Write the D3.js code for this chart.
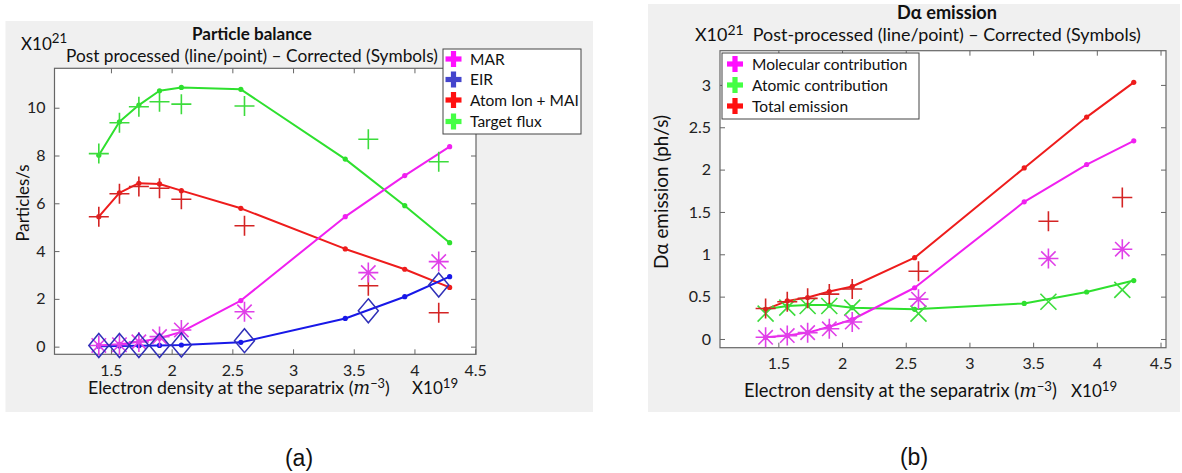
<!DOCTYPE html>
<html><head><meta charset="utf-8">
<script src="https://cdn.jsdelivr.net/npm/d3@7"></script>
<style>body{margin:0;background:#fff}svg{display:block}</style>
</head><body>
<svg id="c" width="1182" height="473"></svg>
<script>
// ---------- DATA ----------
const xLine = [1.40, 1.57, 1.73, 1.90, 2.08, 2.57, 3.43, 3.92, 4.29];
const xSym  = [1.40, 1.57, 1.73, 1.90, 2.08, 2.60, 3.62, 4.20];

// (a) Particle balance  (x10^21 particles/s)
const marLine    = [0.05, 0.10, 0.20, 0.35, 0.62, 1.93, 5.44, 7.16, 8.37];
const marSym     = [0.05, 0.08, 0.20, 0.42, 0.70, 1.46, 3.10, 3.56];
const eirLine    = [0.02, 0.03, 0.04, 0.05, 0.07, 0.18, 1.18, 2.09, 2.93];
const eirSym     = [0.05, 0.05, 0.05, 0.05, 0.07, 0.25, 1.50, 2.58];
const atomLine   = [5.44, 6.44, 6.84, 6.81, 6.53, 5.79, 4.09, 3.24, 2.48];
const atomSym    = [5.44, 6.40, 6.70, 6.63, 6.17, 5.06, 2.55, 1.42];
const targetLine = [8.01, 9.41, 10.11, 10.71, 10.85, 10.77, 7.85, 5.90, 4.35];
const targetSym  = [8.08, 9.37, 10.04, 10.25, 10.15, 10.07, 8.68, 7.74];

// (b) D-alpha emission (x10^21 ph/s)
const molLine = [0.02, 0.04, 0.075, 0.145, 0.23, 0.605, 1.62, 2.06, 2.34];
const molSym  = [0.02, 0.04, 0.075, 0.12, 0.20, 0.47, 0.95, 1.06];
const atLine  = [0.35, 0.39, 0.40, 0.40, 0.37, 0.35, 0.42, 0.555, 0.69];
const atSym   = [0.30, 0.37, 0.39, 0.39, 0.37, 0.30, 0.44, 0.58];
const totLine = [0.35, 0.45, 0.49, 0.56, 0.62, 0.96, 2.02, 2.62, 3.03];
const totSym  = [0.36, 0.44, 0.48, 0.53, 0.59, 0.80, 1.39, 1.67];

const xTicks = [1.5, 2, 2.5, 3, 3.5, 4, 4.5];
const yTicksA = [0, 2, 4, 6, 8, 10];
const yTicksB = [0, 0.5, 1, 1.5, 2, 2.5, 3];

const legendA = ["MAR", "EIR", "Atom Ion + MAI", "Target flux"];
const legendB = ["Molecular contribution", "Atomic contribution", "Total emission"];

// ---------- DRAW ----------
const svg = d3.select("#c");
const FONT = "Lato, 'Open Sans', sans-serif";
const C = {
  mag: "#f020f0", magSym: "#e040e8",
  blue: "#1818e8", blueSym: "#3030b8",
  red: "#ee1c1c", redSym: "#d42424",
  green: "#2ee02e", greenSym: "#3cdc3c",
  legMag: "#ff10ff", legBlue: "#4444cc", legRed: "#ff1010", legGreen: "#44ff44"
};

function fitText(sel, w) {
  const fs = parseFloat(sel.attr("font-size"));
  const m = sel.node().getComputedTextLength();
  if (m > 0) sel.attr("font-size", fs * w / m);
  return sel;
}

function markerPath(type, r) {
  if (type === "plus") return `M${-r},0H${r}M0,${-r}V${r}`;
  if (type === "x") { const q = r * 0.8; return `M${-q},${-q}L${q},${q}M${-q},${q}L${q},${-q}`; }
  if (type === "star") { const q = r * 0.72; return `M${-r},0H${r}M0,${-r}V${r}M${-q},${-q}L${q},${q}M${-q},${q}L${q},${-q}`; }
  if (type === "diamond") { const h = r * 1.2; return `M0,${-h}L${r},0L0,${h}L${-r},0Z`; }
}

function panel(cfg) {
  const g = svg.append("g");
  g.append("rect").attr("x", cfg.bg[0]).attr("y", cfg.bg[1]).attr("width", cfg.bg[2]).attr("height", cfg.bg[3]).attr("fill", "#f0f0f0");
  const [px0, py0, px1, py1] = cfg.plot;
  g.append("rect").attr("x", px0).attr("y", py0).attr("width", px1 - px0).attr("height", py1 - py0).attr("fill", "#fff");
  const x = d3.scaleLinear().domain(cfg.xDom).range([px0, px1]);
  const y = d3.scaleLinear().domain(cfg.yDom).range([py1, py0]);

  const axCol = "#666";
  const ax = g.append("g");
  const xb = ax.append("g").attr("transform", `translate(0,${py1})`)
    .call(d3.axisBottom(x).tickValues(xTicks).tickSize(-5).tickPadding(10).tickFormat(d3.format("~g")));
  const xt = ax.append("g").attr("transform", `translate(0,${py0})`)
    .call(d3.axisTop(x).tickValues(xTicks).tickSize(-5).tickFormat(""));
  const yl = ax.append("g").attr("transform", `translate(${px0},0)`)
    .call(d3.axisLeft(y).tickValues(cfg.yTicks).tickSize(-5).tickPadding(9).tickFormat(d3.format("~g")));
  const yr = ax.append("g").attr("transform", `translate(${px1},0)`)
    .call(d3.axisRight(y).tickValues(cfg.yTicks).tickSize(-5).tickFormat(""));
  [xb, xt, yl, yr].forEach(a => {
    a.select(".domain").remove();
    a.selectAll("line").attr("stroke", axCol);
    a.selectAll("text").attr("fill", "#222").attr("font-family", FONT).attr("font-size", 16);
  });
  g.append("rect").attr("x", px0).attr("y", py0).attr("width", px1 - px0).attr("height", py1 - py0)
    .attr("fill", "none").attr("stroke", axCol).attr("stroke-width", 1.2);

  const dataG = g.append("g");
  const line = d3.line().x((d, i) => x(xLine[i])).y(d => y(d)).curve(d3.curveLinear);

  cfg.series.forEach(s => {
    dataG.append("path").datum(s.line).attr("d", line).attr("fill", "none").attr("stroke", s.col)
      .attr("stroke-width", 2).attr("stroke-linejoin", "round");
    dataG.selectAll(null).data(s.line).enter().append("circle")
      .attr("cx", (d, i) => x(xLine[i])).attr("cy", d => y(d)).attr("r", 2.6).attr("fill", s.col);
  });
  cfg.series.forEach(s => {
    dataG.selectAll(null).data(s.sym).enter().append("path")
      .attr("transform", (d, i) => `translate(${x(xSym[i])},${y(d)})`)
      .attr("d", markerPath(s.mk, s.r || 10))
      .attr("fill", "none").attr("stroke", s.symCol).attr("stroke-width", s.mk === "diamond" ? 1.5 : 1.6);
  });

  // legend
  const [lx0, ly0, lx1, ly1] = cfg.legBox;
  const lg = g.append("g");
  lg.append("rect").attr("x", lx0).attr("y", ly0).attr("width", lx1 - lx0).attr("height", ly1 - ly0)
    .attr("fill", "#fff").attr("stroke", "#444").attr("stroke-width", 1);
  cfg.legend.forEach((t, i) => {
    const cy = cfg.legY[i], cx = cfg.legIconX;
    const col = cfg.legCols[i];
    lg.append("rect").attr("x", cx - 8).attr("y", cy - 2.6).attr("width", 16).attr("height", 5.2).attr("fill", col);
    lg.append("rect").attr("x", cx - 2.6).attr("y", cy - 8).attr("width", 5.2).attr("height", 16).attr("fill", col);
    lg.append("text").attr("x", cfg.legTextX).attr("y", cy + 5.5).attr("font-family", FONT).attr("font-size", 15.5)
      .attr("fill", "#111").text(t);
  });

  // texts
  const tt = g.append("text").attr("x", cfg.title[0]).attr("y", cfg.title[1]).attr("text-anchor", "middle")
    .attr("font-family", FONT).attr("font-weight", "bold").attr("font-size", 16).attr("fill", "#111").text(cfg.titleText);
  fitText(tt, cfg.title[2]);

  const st = g.append("text").attr("x", cfg.sub[0]).attr("y", cfg.sub[1]).attr("font-family", FONT).attr("font-size", 16).attr("fill", "#111");
  if (cfg.subPrefix) {
    st.append("tspan").text("X10");
    st.append("tspan").attr("dy", -6).attr("font-size", "0.78em").text("21");
    st.append("tspan").attr("dy", 6).text("\u00a0\u00a0" + cfg.subText);
  } else st.text(cfg.subText);
  fitText(st, cfg.sub[2]);

  if (cfg.exp21) {
    const e = g.append("text").attr("x", cfg.exp21[0]).attr("y", cfg.exp21[1]).attr("font-family", FONT).attr("font-size", 17).attr("fill", "#111");
    e.append("tspan").text("X10");
    e.append("tspan").attr("dy", -7).attr("font-size", "0.78em").text("21");
  }

  const yt = g.append("text").attr("transform", `translate(${cfg.ylab[0]},${cfg.ylab[1]}) rotate(-90)`)
    .attr("text-anchor", "middle").attr("dy", "0.35em").attr("font-family", FONT).attr("font-size", 16).attr("fill", "#111").text(cfg.ylabText);
  fitText(yt, cfg.ylab[2]);

  const xlT = g.append("text").attr("x", cfg.xlab[0]).attr("y", cfg.xlab[1]).attr("font-family", FONT).attr("font-size", 16).attr("fill", "#111");
  xlT.append("tspan").text("Electron density at the separatrix (");
  xlT.append("tspan").attr("font-family", "'DejaVu Serif', serif").attr("font-style", "italic").text("m");
  xlT.append("tspan").attr("dy", -6).attr("font-size", "0.72em").text("\u22123");
  xlT.append("tspan").attr("dy", 6).text(")");
  fitText(xlT, cfg.xlab[2]);

  const e19 = g.append("text").attr("x", cfg.e19[0]).attr("y", cfg.e19[1]).attr("font-family", FONT).attr("font-size", 17).attr("fill", "#111");
  e19.append("tspan").text("X10");
  e19.append("tspan").attr("dy", -6).attr("font-size", "0.78em").text("19");

  svg.append("text").attr("x", cfg.tag[0]).attr("y", cfg.tag[1]).attr("text-anchor", "middle")
    .attr("font-family", "'Liberation Sans', Arial, sans-serif").attr("font-size", 23).attr("fill", "#111").text(cfg.tagText);
}

panel({
  id: "a",
  bg: [5.5, 21, 587.5, 391],
  plot: [54.5, 68.3, 476, 354.3],
  xDom: [1.035, 4.507], yDom: [-0.32, 11.65], yTicks: yTicksA,
  series: [
    { line: targetLine, sym: targetSym, col: C.green, symCol: C.greenSym, mk: "plus" },
    { line: atomLine, sym: atomSym, col: C.red, symCol: C.redSym, mk: "plus" },
    { line: marLine, sym: marSym, col: C.mag, symCol: C.magSym, mk: "star" },
    { line: eirLine, sym: eirSym, col: C.blue, symCol: C.blueSym, mk: "diamond" }
  ],
  legBox: [443, 49, 581, 134], legend: legendA, legY: [59, 79.5, 100, 121.5], legIconX: 453.5, legTextX: 470,
  legCols: [C.legMag, C.legBlue, C.legRed, C.legGreen],
  titleText: "Particle balance", title: [252, 39.5, 120],
  subText: "Post processed (line/point) \u2013 Corrected (Symbols)", sub: [66, 62, 372],
  exp21: [21, 50],
  ylabText: "Particles/s", ylab: [23, 203, 77],
  xlab: [88, 394, 302], e19: [412, 394],
  tag: [299, 466], tagText: "(a)"
});

panel({
  id: "b",
  bg: [648, 4, 532, 408],
  plot: [720, 50.7, 1166, 347.7],
  xDom: [1.042, 4.543], yDom: [-0.103, 3.404], yTicks: yTicksB,
  series: [
    { line: atLine, sym: atSym, col: C.green, symCol: C.greenSym, mk: "x" },
    { line: totLine, sym: totSym, col: C.red, symCol: C.redSym, mk: "plus" },
    { line: molLine, sym: molSym, col: C.mag, symCol: C.magSym, mk: "star" }
  ],
  legBox: [722, 53, 919, 119], legend: legendB, legY: [64, 85, 106], legIconX: 735, legTextX: 752,
  legCols: [C.legMag, C.legGreen, C.legRed],
  titleText: "D\u03b1 emission", title: [947, 19, 100],
  subPrefix: true, subText: "Post-processed (line/point) \u2013 Corrected (Symbols)", sub: [695, 41, 446],
  ylabText: "D\u03b1 emission (ph/s)", ylab: [661, 192, 154],
  xlab: [744, 397, 313], e19: [1071, 397],
  tag: [914, 465], tagText: "(b)"
});
</script>
</body></html>
